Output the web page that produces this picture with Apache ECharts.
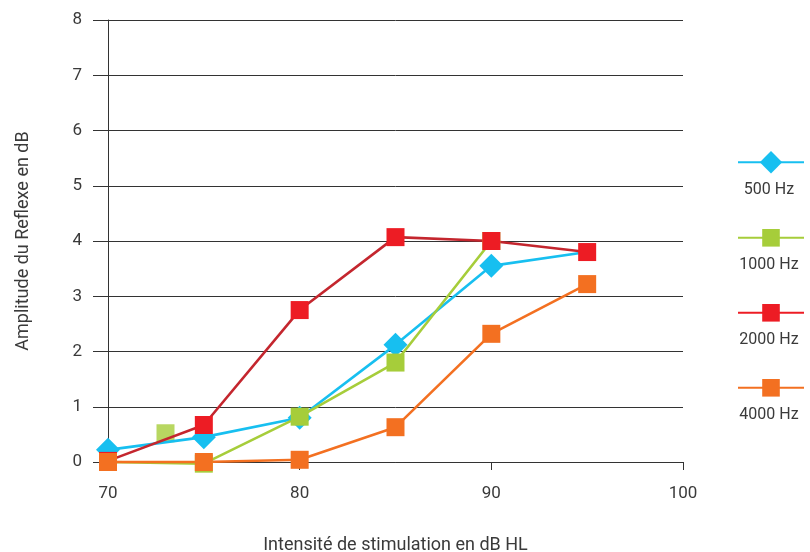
<!DOCTYPE html>
<html>
<head>
<meta charset="utf-8">
<script src="https://cdn.jsdelivr.net/npm/echarts@6/dist/echarts.min.js"></script>
<style>html,body{margin:0;padding:0;background:#fff}#c{width:810px;height:552px}</style>
</head>
<body>
<div id="c"></div>
<script>
// ---- data ----
const seriesNames = ['500 Hz', '1000 Hz', '2000 Hz', '4000 Hz'];
const intensities = [70, 75, 80, 85, 90, 95];
const amp500 = [0.22, 0.45, 0.8, 2.12, 3.55, 3.8];
const intensities1000 = [70, 75, 80, 85, 90];
const amp1000 = [0, -0.03, 0.82, 1.8, 4.0];
const extraIntensity1000 = [73];
const extraAmp1000 = [0.52];
const amp2000 = [0.02, 0.67, 2.75, 4.07, 4.0, 3.8];
const amp4000 = [0, 0, 0.04, 0.63, 2.32, 3.22];
const xTicks = [70, 80, 90, 100];
const yTicks = [0, 1, 2, 3, 4, 5, 6, 7, 8];

const pair = (xs, ys) => xs.map((x, i) => [x, ys[i]]);
const FONT = 'Roboto';
const TXT = '#3a3a3a';
const colors = { b: '#17bff0', g: '#a6cd3a', r: '#ed1c24', rl: '#c4262e', o: '#f37021' };

// the last 500 Hz point has no visible marker in the reference
const data500 = pair(intensities, amp500).map((v, i, arr) =>
  i === arr.length - 1 ? { value: v, symbol: 'none' } : v);

const chart = echarts.init(document.getElementById('c'), null, { renderer: 'canvas' });

function legendFor(name, top, h, extra) {
  return Object.assign({
    data: [name], left: 737, top: top, padding: 0, itemWidth: 66, itemHeight: h,
    selectedMode: false, formatter: () => ' ', textStyle: { color: 'transparent', fontSize: 1 }
  }, extra || {});
}

chart.setOption({
  animation: false,
  backgroundColor: '#ffffff',
  grid: { left: 108, right: 127, top: 20, bottom: 90, outerBoundsMode: 'none', containLabel: false },
  legend: [
    legendFor(seriesNames[0], 165 - 14, 28),
    legendFor(seriesNames[1], 240 - 11, 22),
    legendFor(seriesNames[2], 315 - 11, 22, { lineStyle: { color: colors.r } }),
    legendFor(seriesNames[3], 390 - 11, 22)
  ],
  graphic: seriesNames.map((n, i) => ({
    type: 'text', x: 769, y: [190, 265, 340, 415][i],
    style: { text: n, fill: TXT, font: '16px ' + FONT, textAlign: 'center', textVerticalAlign: 'middle' }
  })),
  xAxis: {
    type: 'value', min: xTicks[0], max: xTicks[xTicks.length - 1], interval: 10,
    name: 'Intensité de stimulation en dB HL', nameLocation: 'middle', nameGap: 74,
    nameTextStyle: { color: TXT, fontFamily: FONT, fontSize: 18 },
    axisLine: { show: true, lineStyle: { color: '#333', width: 1 } },
    axisTick: { show: true, length: 8, lineStyle: { color: '#333' } },
    axisLabel: { color: TXT, fontFamily: FONT, fontSize: 17, margin: 23 },
    splitLine: { show: false }
  },
  yAxis: {
    type: 'value', min: yTicks[0], max: yTicks[yTicks.length - 1], interval: 1,
    name: 'Amplitude du Reflexe en dB', nameLocation: 'middle', nameGap: 76,
    nameTextStyle: { color: TXT, fontFamily: FONT, fontSize: 18 },
    axisLine: { show: true, lineStyle: { color: '#333', width: 1 } },
    axisTick: { show: true, length: 15, lineStyle: { color: '#333' } },
    axisLabel: { color: TXT, fontFamily: FONT, fontSize: 17, margin: 26 },
    splitLine: { show: true, lineStyle: { color: '#333', width: 1 } }
  },
  series: [
    {
      name: seriesNames[0], type: 'line', data: data500, clip: false,
      symbol: 'diamond', symbolSize: 24, lineStyle: { color: colors.b, width: 2.6 },
      itemStyle: { color: colors.b }
    },
    {
      name: seriesNames[1], type: 'line', data: pair(intensities1000, amp1000), clip: false,
      symbol: 'rect', symbolSize: 18, lineStyle: { color: colors.g, width: 2.6 },
      itemStyle: { color: colors.g }
    },
    {
      name: seriesNames[1], type: 'scatter', data: pair(extraIntensity1000, extraAmp1000), clip: false,
      symbol: 'rect', symbolSize: 18, itemStyle: { color: colors.g }
    },
    {
      name: seriesNames[2], type: 'line', data: pair(intensities, amp2000), clip: false,
      symbol: 'rect', symbolSize: 18, lineStyle: { color: colors.rl, width: 2.6 },
      itemStyle: { color: colors.r }
    },
    {
      name: seriesNames[3], type: 'line', data: pair(intensities, amp4000), clip: false,
      symbol: 'rect', symbolSize: 18, lineStyle: { color: colors.o, width: 2.6 },
      itemStyle: { color: colors.o }
    }
  ]
});
</script>
</body>
</html>
